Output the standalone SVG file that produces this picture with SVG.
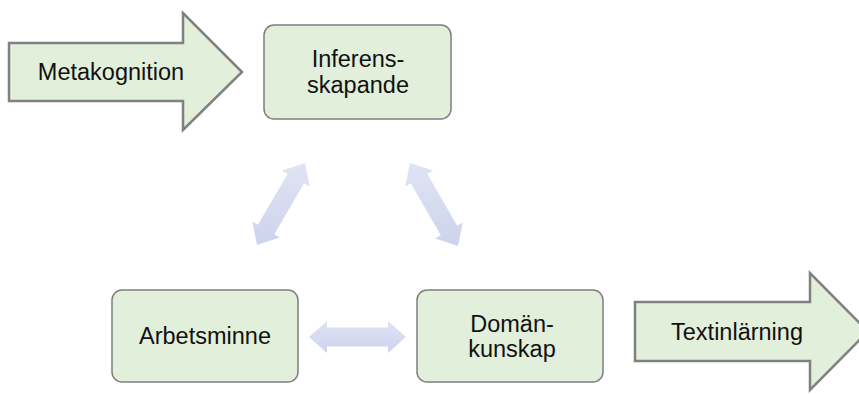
<svg xmlns="http://www.w3.org/2000/svg" width="859" height="394" viewBox="0 0 859 394">
  <defs>
    <linearGradient id="linkFill" x1="0" y1="0" x2="0" y2="1">
      <stop offset="0" stop-color="#dfe4f4"/>
      <stop offset="1" stop-color="#cdd3ec"/>
    </linearGradient>
    <style>
      .box { fill: #e2efda; stroke: #7f7f7f; stroke-width: 1.5; }
      .big-arrow { fill: #e2efda; stroke: #808080; stroke-width: 2.5; stroke-linejoin: miter; }
      .link { fill: url(#linkFill); stroke: none; }
      .label { font-family: "Liberation Sans", Arial, sans-serif; font-size: 23.5px; fill: #111111; text-anchor: middle; }
    </style>
  </defs>

  <rect width="859" height="394" fill="#ffffff"/>

  <!-- input arrow -->
  <g id="metakognition">
    <polygon class="big-arrow" points="9,43 183,43 183,13 242,72 183,130 183,101 9,101"/>
    <text class="label" x="111" y="80">Metakognition</text>
  </g>

  <!-- output arrow -->
  <g id="textinlarning">
    <polygon class="big-arrow" points="635,302 810,302 810,273 868,331.5 810,390 810,361 635,361"/>
    <text class="label" x="737" y="340">Textinlärning</text>
  </g>

  <g id="inferensskapande">
    <rect class="box" x="264" y="25" width="187" height="94" rx="10" ry="10"/>
    <text class="label" x="358" y="67">Inferens-</text>
    <text class="label" x="358" y="93">skapande</text>
  </g>

  <g id="arbetsminne">
    <rect class="box" x="112" y="290" width="186" height="92" rx="10" ry="10"/>
    <text class="label" x="205" y="344">Arbetsminne</text>
  </g>

  <g id="domankunskap">
    <rect class="box" x="417" y="290" width="186" height="92" rx="10" ry="10"/>
    <text class="label" x="512" y="332">Domän-</text>
    <text class="label" x="512" y="357">kunskap</text>
  </g>

  <!-- two-way links between the three boxes -->
  <g id="connectors">
    <polygon class="link" points="257,245 252.3,221.4 257.9,224.7 287.7,173.7 282.1,170.5 305,163 309.7,186.6 304.1,183.3 274.3,234.3 279.9,237.6"/>
    <polygon class="link" points="458,246 435.1,238.4 440.8,235.2 410.8,183.3 405.2,186.6 410,163 432.9,170.6 427.2,173.8 457.2,225.7 462.8,222.4"/>
    <polygon class="link" points="309,337 327,321 327,327.5 388,327.5 388,321 406,337 388,353 388,346.5 327,346.5 327,353"/>
  </g>
</svg>
